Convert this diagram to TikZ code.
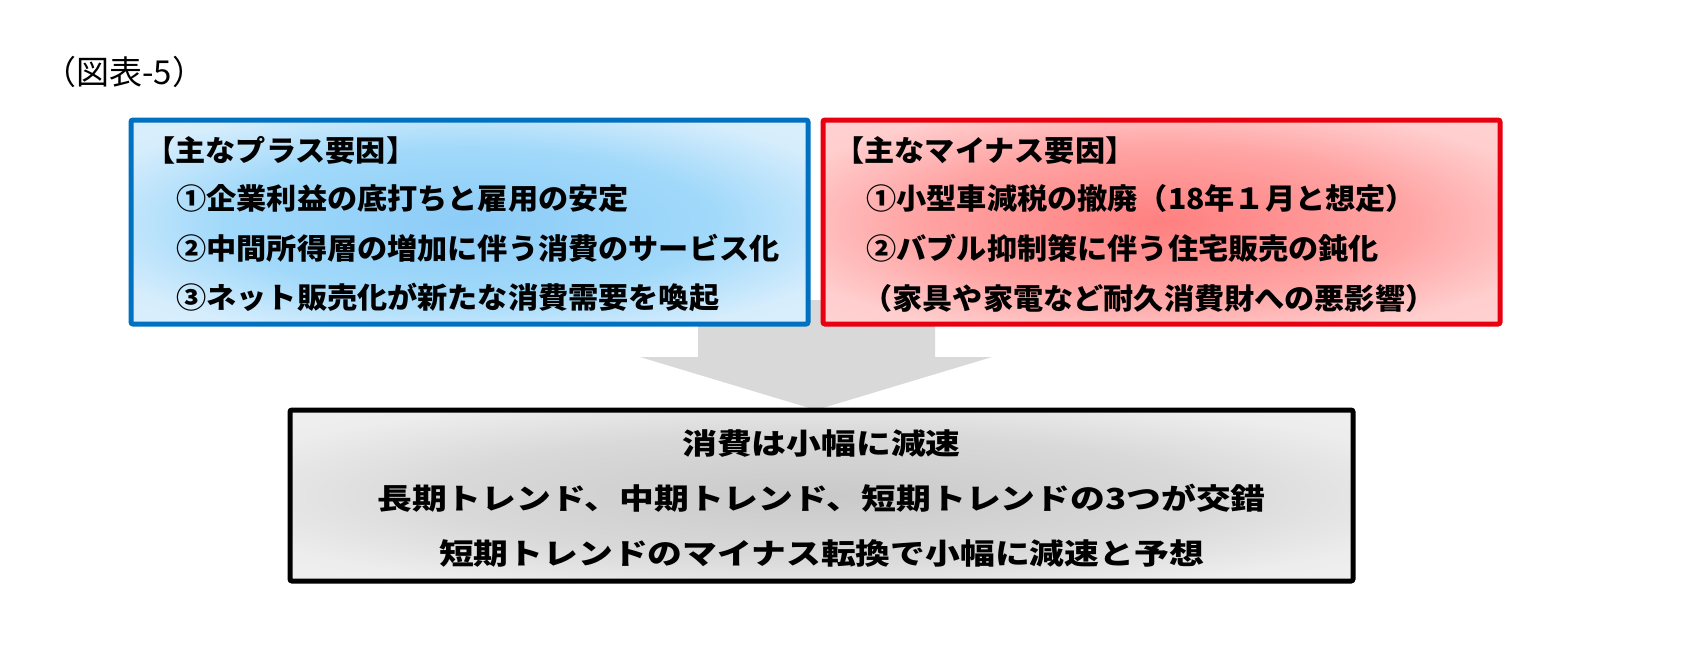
\documentclass[tikz,border=0pt]{standalone}
\usepackage{fontspec}
\newfontfamily\jpfont{Noto Sans CJK JP}
\newfontfamily\boxfont{Noto Sans CJK JP}[FakeStretch=1.04]
\newfontfamily\resfont{Noto Sans CJK JP}[FakeStretch=1.2]
\definecolor{plusblue}{RGB}{0,112,192}
\definecolor{minusred}{RGB}{232,0,16}
\definecolor{arrowgray}{RGB}{217,217,217}
% degradados radiales de los cuadros
\pgfdeclareradialshading{plusglow}{\pgfpoint{0bp}{0bp}}{rgb(0bp)=(0.55,0.80,0.97); rgb(18bp)=(0.63,0.85,0.98);
  rgb(30bp)=(0.84,0.93,0.99); rgb(50bp)=(0.88,0.95,0.99)}
\pgfdeclareradialshading{minusglow}{\pgfpoint{0bp}{0bp}}{rgb(0bp)=(1,0.50,0.50); rgb(18bp)=(1,0.64,0.64);
  rgb(30bp)=(1,0.81,0.81); rgb(50bp)=(1,0.85,0.85)}
\pgfdeclareradialshading{resglow}{\pgfpoint{0bp}{0bp}}{rgb(0bp)=(0.79,0.79,0.79); rgb(18bp)=(0.85,0.85,0.85);
  rgb(30bp)=(0.93,0.93,0.93); rgb(50bp)=(0.95,0.95,0.95)}

\begin{document}
\begin{tikzpicture}[x=0.5pt,y=-0.5pt, % 1 unidad = 1 pixel
    box/.style={draw, line width=2.5pt, rounded corners=1pt, inner sep=0pt,
      minimum width=338.5pt, minimum height=102pt},
    txt/.style={anchor=west, inner sep=0pt, font=\boxfont\bfseries\fontsize{14.5}{14.5}\selectfont},
    restxt/.style={inner sep=0pt, font=\resfont\bfseries\fontsize{14.5}{14.5}\selectfont}]

    \useasboundingbox (0,0) rectangle (1682,649);

    \node[anchor=west, inner sep=0pt, font=\jpfont\fontsize{16.5}{16.5}\selectfont] (title) at (43,72) {（図表-5）};

    % Flecha gris (detras de los cuadros)
    \coordinate (tip) at (816,410);
    \fill[arrowgray] (698,300) -- (935,300) -- (935,357) -- (992,357) -- (tip)
        -- (640,357) -- (698,357) -- cycle;

    % Cuadro: factores positivos
    \node[box, plusblue, shading=plusglow] (plus) at (469.5,222) {};
    \node[txt] (plus0) at (145,150) {【主なプラス要因】};
    \node[txt] (plus1) at (176,198) {①企業利益の底打ちと雇用の安定};
    \node[txt] (plus2) at (176,248) {②中間所得層の増加に伴う消費のサービス化};
    \node[txt] (plus3) at (176,297) {③ネット販売化が新たな消費需要を喚起};

    % Cuadro: factores negativos
    \node[box, minusred, shading=minusglow] (minus) at (1161.5,222) {};
    \node[txt] (minus0) at (834,150) {【主なマイナス要因】};
    \node[txt] (minus1) at (866,198) {①小型車減税の撤廃（18年１月と想定）};
    \node[txt] (minus2) at (866,248) {②バブル抑制策に伴う住宅販売の鈍化};
    \node[txt] (minus3) at (862,298) {（家具や家電など耐久消費財への悪影響）};

    % Cuadro: resultado
    \node[box, black, minimum width=531.5pt, minimum height=85.5pt, shading=resglow] (res) at (821.5,495.5) {};
    \node[restxt] (res1) at (821.5,444) {消費は小幅に減速};
    \node[restxt] (res2) at (821.5,498) {長期トレンド、中期トレンド、短期トレンドの3つが交錯};
    \node[restxt] (res3) at (821.5,553) {短期トレンドのマイナス転換で小幅に減速と予想};

\end{tikzpicture}
\end{document}
